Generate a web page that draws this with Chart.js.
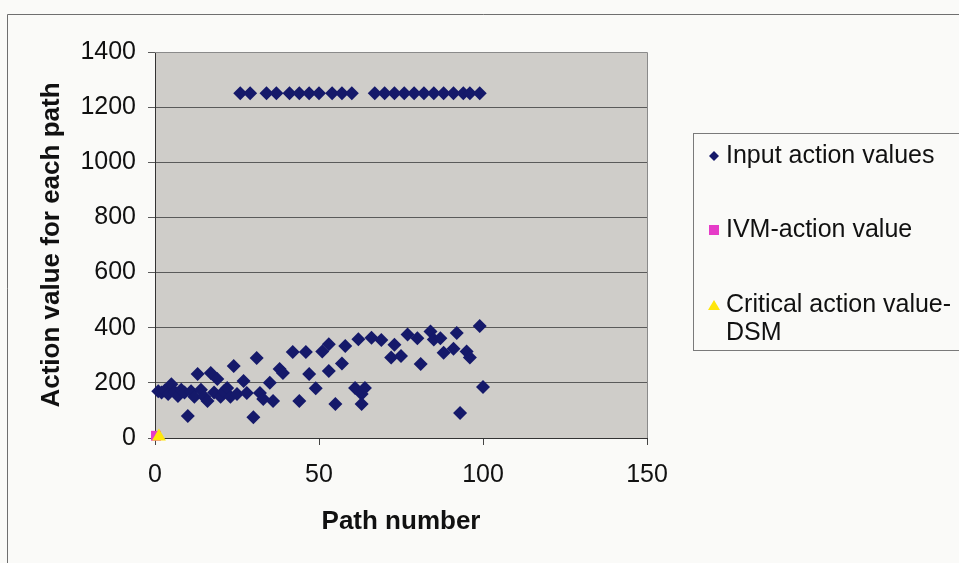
<!DOCTYPE html>
<html>
<head>
<meta charset="utf-8">
<script src="https://cdn.jsdelivr.net/npm/chart.js@4/dist/chart.umd.min.js"></script>
<style>
  html, body { margin: 0; padding: 0; background: #fafaf8; }
  #wrap { width: 959px; height: 563px; }
</style>
</head>
<body>
<div id="wrap"><canvas id="c" width="959" height="563"></canvas></div>
<script>
// Input action values per path (path number, action value)
const inputPaths = [
  1, 2, 3, 4, 5, 6, 7, 8, 9, 10, 11, 12, 13, 14, 15, 16, 17, 18, 19, 20, 21, 22, 23, 24, 25,
  26, 29, 34, 37, 41, 44, 47, 50, 54, 57, 60, 67, 70, 73, 76, 79, 82, 85, 88, 91, 94, 96, 99,
  27, 28, 30, 31, 32, 33, 35, 36, 38, 39, 42, 44, 46, 47, 49, 51, 53, 53, 55, 57, 58,
  61, 62, 63, 63, 64, 66, 69, 72, 73, 75, 77, 80, 81, 84, 85, 87, 88, 91, 92, 93, 95, 96, 99, 100
];
const inputValues = [
  170, 165, 172, 160, 195, 168, 152, 175, 165, 80, 170, 150, 232, 175, 150, 134, 236, 165, 214, 150, 170, 181, 150, 261, 160,
  1250, 1250, 1250, 1250, 1250, 1250, 1250, 1250, 1250, 1250, 1250, 1250, 1250, 1250, 1250, 1250, 1250, 1250, 1250, 1250, 1250, 1250, 1250,
  207, 163, 75, 290, 163, 141, 200, 134, 250, 236, 312, 134, 312, 232, 180, 314, 340, 243, 123, 270, 334,
  181, 358, 160, 123, 181, 364, 355, 292, 338, 297, 375, 362, 268, 386, 357, 362, 309, 324, 381, 91, 314, 292, 406, 185
];
// IVM action value and the DSM critical action value
const ivmPath = [0.3];
const ivmValue = [8];
const criticalPath = [1.2];
const criticalValue = [5];

const seriesNames = ['Input action values', 'IVM-action value', ['Critical action value-', 'DSM']];
const xTicks = [0, 50, 100, 150];
const yTicks = [0, 200, 400, 600, 800, 1000, 1200, 1400];

const toPoints = (xs, ys) => xs.map((x, i) => ({ x: x, y: ys[i] }));

const FONT = '"Liberation Sans", Arial, sans-serif';

// Plot background, outer frame and plot border
const framePlugin = {
  id: 'frame',
  beforeDraw(chart) {
    const ctx = chart.ctx;
    const a = chart.chartArea;
    ctx.save();
    ctx.fillStyle = '#fafaf8';
    ctx.fillRect(0, 0, chart.width, chart.height);
    ctx.strokeStyle = '#6f6f6f';
    ctx.lineWidth = 1;
    ctx.beginPath();
    ctx.moveTo(7.5, chart.height);
    ctx.lineTo(7.5, 14.5);
    ctx.lineTo(chart.width, 14.5);
    ctx.stroke();
    ctx.fillStyle = '#cfcdc9';
    ctx.fillRect(a.left, a.top, a.right - a.left, a.bottom - a.top);
    ctx.restore();
  },
  beforeDatasetsDraw(chart) {
    const ctx = chart.ctx;
    const a = chart.chartArea;
    ctx.save();
    ctx.strokeStyle = '#8a8a8a';
    ctx.lineWidth = 1;
    ctx.beginPath();
    ctx.moveTo(a.left, Math.round(a.top) + 0.5);
    ctx.lineTo(Math.round(a.right) + 0.5, Math.round(a.top) + 0.5);
    ctx.lineTo(Math.round(a.right) + 0.5, a.bottom);
    ctx.stroke();
    ctx.restore();
  }
};

// Boxed legend to the right of the plot
const legendPlugin = {
  id: 'boxLegend',
  afterDraw(chart) {
    const ctx = chart.ctx;
    ctx.save();
    ctx.strokeStyle = '#7a7a7a';
    ctx.lineWidth = 1;
    ctx.strokeRect(693.5, 133.5, 300, 217);
    const rows = [156, 230, 305];
    ctx.font = '25px ' + FONT;
    ctx.textBaseline = 'middle';
    ctx.textAlign = 'left';
    chart.data.datasets.forEach((ds, i) => {
      const y = rows[i];
      const mx = 714;
      ctx.fillStyle = ds.backgroundColor;
      ctx.beginPath();
      if (ds.pointStyle === 'rectRot') {
        ctx.moveTo(mx, y - 5); ctx.lineTo(mx + 5, y); ctx.lineTo(mx, y + 5); ctx.lineTo(mx - 5, y);
      } else if (ds.pointStyle === 'rect') {
        ctx.rect(mx - 5, y - 5, 10, 10);
      } else {
        ctx.moveTo(mx, y - 5); ctx.lineTo(mx + 6, y + 5); ctx.lineTo(mx - 6, y + 5);
      }
      ctx.closePath();
      ctx.fill();
      ctx.fillStyle = '#111';
      const lines = Array.isArray(seriesNames[i]) ? seriesNames[i] : [seriesNames[i]];
      lines.forEach((t, k) => ctx.fillText(t, 726, y + k * 28));
    });
    ctx.restore();
  }
};

new Chart(document.getElementById('c'), {
  type: 'scatter',
  data: {
    datasets: [
      {
        label: 'Input action values',
        data: toPoints(inputPaths, inputValues),
        pointStyle: 'rectRot',
        backgroundColor: '#15196a',
        borderColor: '#15196a',
        borderWidth: 0,
        pointRadius: 7,
        order: 2,
        clip: false
      },
      {
        label: 'IVM-action value',
        data: toPoints(ivmPath, ivmValue),
        pointStyle: 'rect',
        backgroundColor: '#e63cc8',
        borderColor: '#e63cc8',
        borderWidth: 0,
        pointRadius: 7,
        order: 1,
        clip: false
      },
      {
        label: 'Critical action value-DSM',
        data: toPoints(criticalPath, criticalValue),
        pointStyle: 'triangle',
        backgroundColor: '#ffe60a',
        borderColor: '#ffe60a',
        borderWidth: 0,
        pointRadius: 8,
        order: 0,
        clip: false
      }
    ]
  },
  options: {
    responsive: false,
    animation: false,
    events: [],
    layout: { padding: { top: 52, right: 312, left: 36, bottom: 26 } },
    plugins: { legend: { display: false }, tooltip: { enabled: false } },
    scales: {
      x: {
        type: 'linear',
        min: xTicks[0],
        max: xTicks[xTicks.length - 1],
        afterBuildTicks: s => { s.ticks = xTicks.map(v => ({ value: v })); },
        afterFit: s => { s.height = 99; },
        grid: { drawOnChartArea: false, drawTicks: true, tickLength: 7, color: '#444' },
        border: { display: true, color: '#333', width: 1 },
        ticks: { color: '#111', font: { family: FONT, size: 25 }, padding: 15, callback: v => String(v) },
        title: {
          display: true, text: 'Path number', color: '#111',
          font: { family: FONT, size: 26, weight: 'bold' }, padding: { top: 10, bottom: 0 }
        }
      },
      y: {
        type: 'linear',
        min: yTicks[0],
        max: yTicks[yTicks.length - 1],
        afterBuildTicks: s => { s.ticks = yTicks.map(v => ({ value: v })); },
        afterFit: s => { s.width = 119; },
        grid: { drawOnChartArea: true, drawTicks: true, tickLength: 7, color: '#5a5a5a' },
        border: { display: true, color: '#333', width: 1 },
        ticks: { color: '#111', font: { family: FONT, size: 25 }, padding: 12, callback: v => String(v) },
        title: {
          display: true, text: 'Action value for each path', color: '#111',
          font: { family: FONT, size: 26, weight: 'bold' }, padding: { top: 0, bottom: 0 }
        }
      }
    }
  },
  plugins: [framePlugin, legendPlugin]
});
</script>
</body>
</html>
